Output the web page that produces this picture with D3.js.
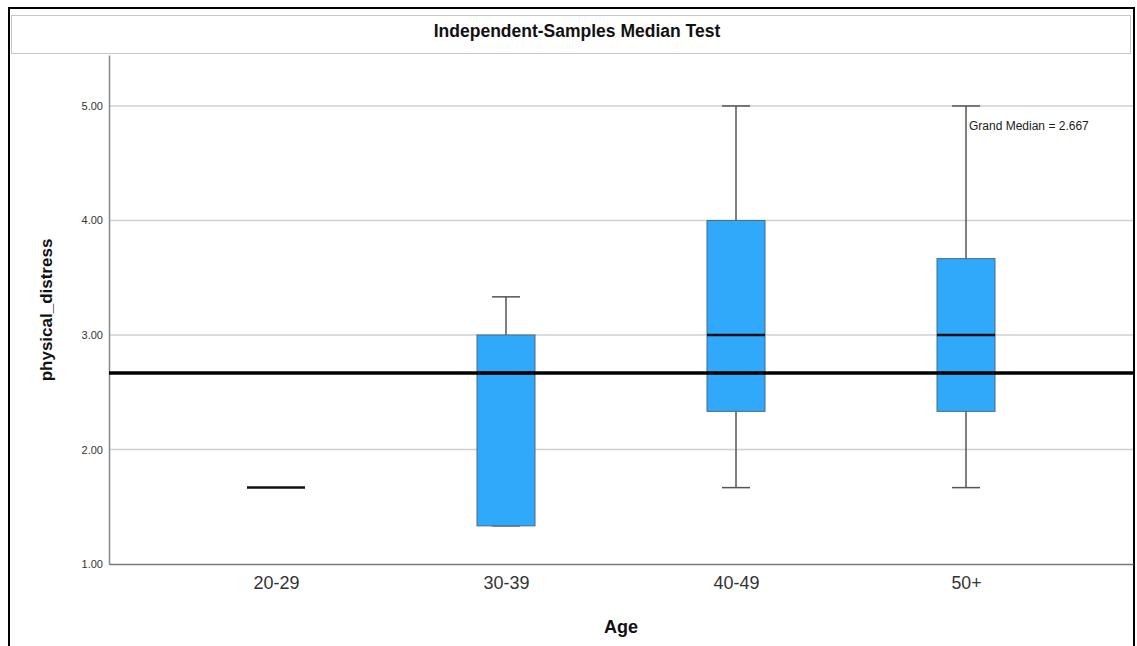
<!DOCTYPE html>
<html>
<head>
<meta charset="utf-8">
<script src="https://cdn.jsdelivr.net/npm/d3@7"></script>
<style>
  body { margin: 0; background: #fff; }
  svg { display: block; font-family: "Liberation Sans", Arial, sans-serif; }
</style>
</head>
<body>
<svg width="1137" height="646"></svg>
<script>
// box plot data
var ageGroups = ["20-29", "30-39", "40-49", "50+"];
var whiskerLow = [1.667, 1.333, 1.667, 1.667];
var q1 = [1.667, 1.333, 2.333, 2.333];
var medians = [1.667, 2.667, 3.0, 3.0];
var q3 = [1.667, 3.0, 4.0, 3.667];
var whiskerHigh = [1.667, 3.333, 5.0, 5.0];
var yTicks = [1, 2, 3, 4, 5];
var grandMedian = 2.667;

var svg = d3.select("svg");

var plotLeft = 109, plotRight = 1133, plotTop = 55, plotBottom = 564;

// outer frame and title band
svg.append("rect")
  .attr("x", 9).attr("y", 8).attr("width", 1125).attr("height", 650)
  .attr("fill", "none").attr("stroke", "#000").attr("stroke-width", 2);
svg.append("rect")
  .attr("x", 11.5).attr("y", 15.5).attr("width", 1119).attr("height", 38)
  .attr("fill", "none").attr("stroke", "#c8c8c8").attr("stroke-width", 1);
svg.append("text")
  .attr("x", 577).attr("y", 37)
  .attr("text-anchor", "middle")
  .attr("font-size", 17.5).attr("font-weight", "bold").attr("fill", "#111")
  .text("Independent-Samples Median Test");

// scales
var yScale = d3.scaleLinear()
  .domain([1, 5.445])
  .range([plotBottom, plotTop]);

var xScale = d3.scalePoint()
  .domain(ageGroups)
  .range([plotLeft, plotRight])
  .padding(0.726);

// gridlines
svg.append("g")
  .selectAll("line")
  .data(yTicks.slice(1))
  .join("line")
  .attr("x1", plotLeft).attr("x2", plotRight)
  .attr("y1", function(d) { return yScale(d); })
  .attr("y2", function(d) { return yScale(d); })
  .attr("stroke", "#d0d0d0").attr("stroke-width", 1.5);

// y axis
var yAxis = d3.axisLeft(yScale)
  .tickValues(yTicks)
  .tickSize(0)
  .tickPadding(6)
  .tickFormat(d3.format(".2f"));

var yg = svg.append("g")
  .attr("transform", "translate(" + plotLeft + ",0)")
  .call(yAxis);
yg.select(".domain").attr("stroke", "#888").attr("stroke-width", 1.5);
yg.selectAll("text").attr("font-size", 11).attr("fill", "#333")
  .attr("font-family", "Liberation Sans, Arial, sans-serif");

// x axis
var xAxis = d3.axisBottom(xScale).tickSize(0).tickPadding(12);
var xg = svg.append("g")
  .attr("transform", "translate(0," + plotBottom + ")")
  .call(xAxis);
xg.select(".domain").attr("stroke", "#777").attr("stroke-width", 1.5);
xg.selectAll("text").attr("font-size", 18).attr("fill", "#333")
  .attr("textLength", function(d) { return d === "50+" ? 30 : 46; })
  .attr("lengthAdjust", "spacingAndGlyphs")
  .attr("font-family", "Liberation Sans, Arial, sans-serif");

// axis titles
svg.append("text")
  .attr("x", 621).attr("y", 633)
  .attr("text-anchor", "middle")
  .attr("font-size", 18).attr("font-weight", "bold").attr("fill", "#111")
  .text("Age");
svg.append("text")
  .attr("transform", "translate(52,310) rotate(-90)")
  .attr("text-anchor", "middle")
  .attr("font-size", 17).attr("font-weight", "bold").attr("fill", "#111")
  .text("physical_distress");

// boxes
var boxW = 58, capW = 28;
var boxes = svg.append("g").selectAll("g")
  .data(ageGroups)
  .join("g");

boxes.append("line")
  .attr("x1", function(d) { return xScale(d); })
  .attr("x2", function(d) { return xScale(d); })
  .attr("y1", function(d, i) { return yScale(whiskerLow[i]); })
  .attr("y2", function(d, i) { return yScale(whiskerHigh[i]); })
  .attr("stroke", "#555").attr("stroke-width", 1.5);

boxes.each(function(d, i) {
  var g = d3.select(this);
  if (whiskerLow[i] === whiskerHigh[i]) return;
  [whiskerLow[i], whiskerHigh[i]].forEach(function(v) {
    g.append("line")
      .attr("x1", xScale(d) - capW / 2).attr("x2", xScale(d) + capW / 2)
      .attr("y1", yScale(v)).attr("y2", yScale(v))
      .attr("stroke", "#555").attr("stroke-width", 1.5);
  });
});

boxes.append("rect")
  .attr("x", function(d) { return xScale(d) - boxW / 2; })
  .attr("width", boxW)
  .attr("y", function(d, i) { return yScale(q3[i]); })
  .attr("height", function(d, i) { return yScale(q1[i]) - yScale(q3[i]); })
  .attr("fill", "#31a9fb").attr("stroke", "#4a6a88").attr("stroke-width", 1);

boxes.append("line")
  .attr("x1", function(d) { return xScale(d) - boxW / 2; })
  .attr("x2", function(d) { return xScale(d) + boxW / 2; })
  .attr("y1", function(d, i) { return yScale(medians[i]); })
  .attr("y2", function(d, i) { return yScale(medians[i]); })
  .attr("stroke", "#111").attr("stroke-width", 2.5);

// grand median line
svg.append("line")
  .attr("x1", plotLeft).attr("x2", plotRight)
  .attr("y1", yScale(grandMedian)).attr("y2", yScale(grandMedian))
  .attr("stroke", "#000").attr("stroke-width", 3.5);

svg.append("text")
  .attr("x", 969).attr("y", 130)
  .attr("font-size", 12).attr("fill", "#222")
  .text("Grand Median = " + grandMedian);
</script>
</body>
</html>
